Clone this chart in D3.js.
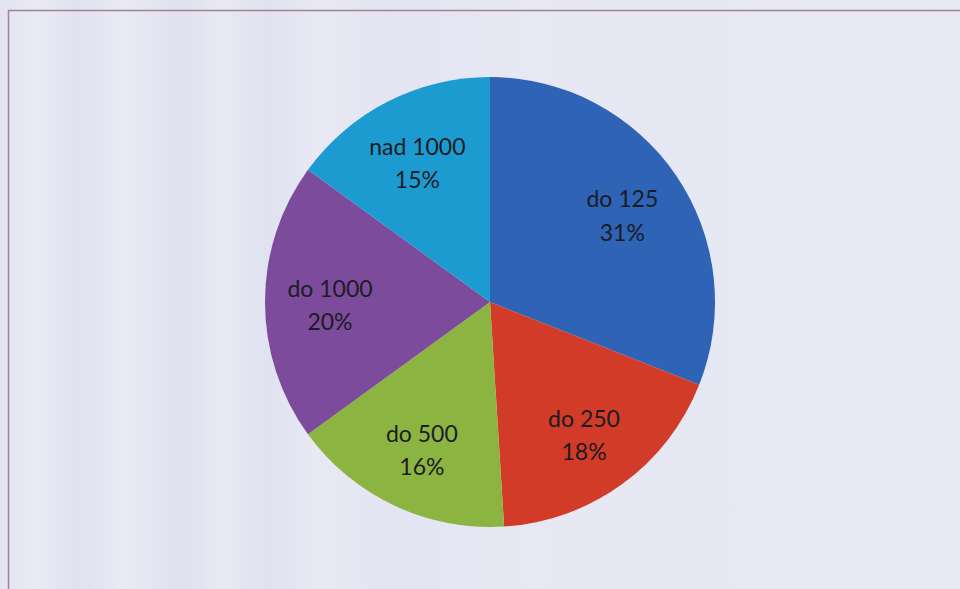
<!DOCTYPE html>
<html>
<head>
<meta charset="utf-8">
<script src="https://cdn.jsdelivr.net/npm/d3@7"></script>
<style>
  html, body { margin: 0; padding: 0; background: #e4e6f3; }
  svg { display: block; }
  .lbl { font-family: Lato, "Open Sans", sans-serif; font-size: 23px; fill: #1c1c24; }
</style>
</head>
<body>
<div id="canvas"></div>
<script>
var Name = ['do 125', 'do 250', 'do 500', 'do 1000', 'nad 1000']
var Val = [31, 18, 16, 20, 15]
var Color = ['#2f63b6', '#d13b27', '#8cb441', '#7c4b9b', '#1c9bd1']

var width = 960
var height = 589

// pie center & size
var cx = 490
var cy = 302
var radius = 225
var label_r = 160

let Svg = d3.select('#canvas')
    .append('svg')
    .attr('width', width)
    .attr('height', height)

// scanned-paper background with soft vertical bands
let grad = Svg.append('defs').append('linearGradient')
    .attr('id', 'bands')
    .attr('x1', 0).attr('x2', 1).attr('y1', 0).attr('y2', 0)
var bandStops = [
  [0, '#e2e4f1'], [0.04, '#e9eaf5'], [0.08, '#e0e2f0'], [0.13, '#e9eaf5'],
  [0.19, '#dfe1ef'], [0.23, '#e8e9f4'], [0.28, '#e0e2f0'], [0.33, '#e8e9f4'],
  [0.40, '#e3e5f2'], [0.55, '#e7e8f4'], [0.70, '#e5e7f3'], [0.85, '#e8e9f5'], [1, '#e6e8f4']
]
grad.selectAll('stop')
    .data(bandStops)
    .enter()
    .append('stop')
    .attr('offset', d => d[0])
    .attr('stop-color', d => d[1])

Svg.append('rect')
    .attr('width', width)
    .attr('height', height)
    .style('fill', 'url(#bands)')

// frame
Svg.append('rect')
    .attr('x', 8.5)
    .attr('y', 10.5)
    .attr('width', width + 20)
    .attr('height', height + 20)
    .style('fill', 'none')
    .style('stroke', '#a08490')
    .style('stroke-width', 1.5)

let pie = d3.pie().sort(null).value(d => d)
let arcs = pie(Val)

let arc = d3.arc().innerRadius(0).outerRadius(radius)
let labelArc = d3.arc().innerRadius(label_r).outerRadius(label_r)

let g = Svg.append('g').attr('transform', 'translate(' + cx + ',' + cy + ')')

g.selectAll('path')
    .data(arcs)
    .enter()
    .append('path')
    .attr('d', arc)
    .style('fill', (d, i) => Color[i])

let labels = g.selectAll('.lbl')
    .data(arcs)
    .enter()
    .append('text')
    .attr('class', 'lbl')
    .attr('text-anchor', 'middle')
    .attr('transform', d => {
        var c = labelArc.centroid(d)
        return 'translate(' + c[0] + ',' + (c[1] + 2) + ')'
    })

labels.append('tspan')
    .attr('x', 0)
    .attr('dy', '-0.3em')
    .text((d, i) => Name[i])
labels.append('tspan')
    .attr('x', 0)
    .attr('dy', '1.45em')
    .text((d, i) => Val[i] + '%')
</script>
</body>
</html>
